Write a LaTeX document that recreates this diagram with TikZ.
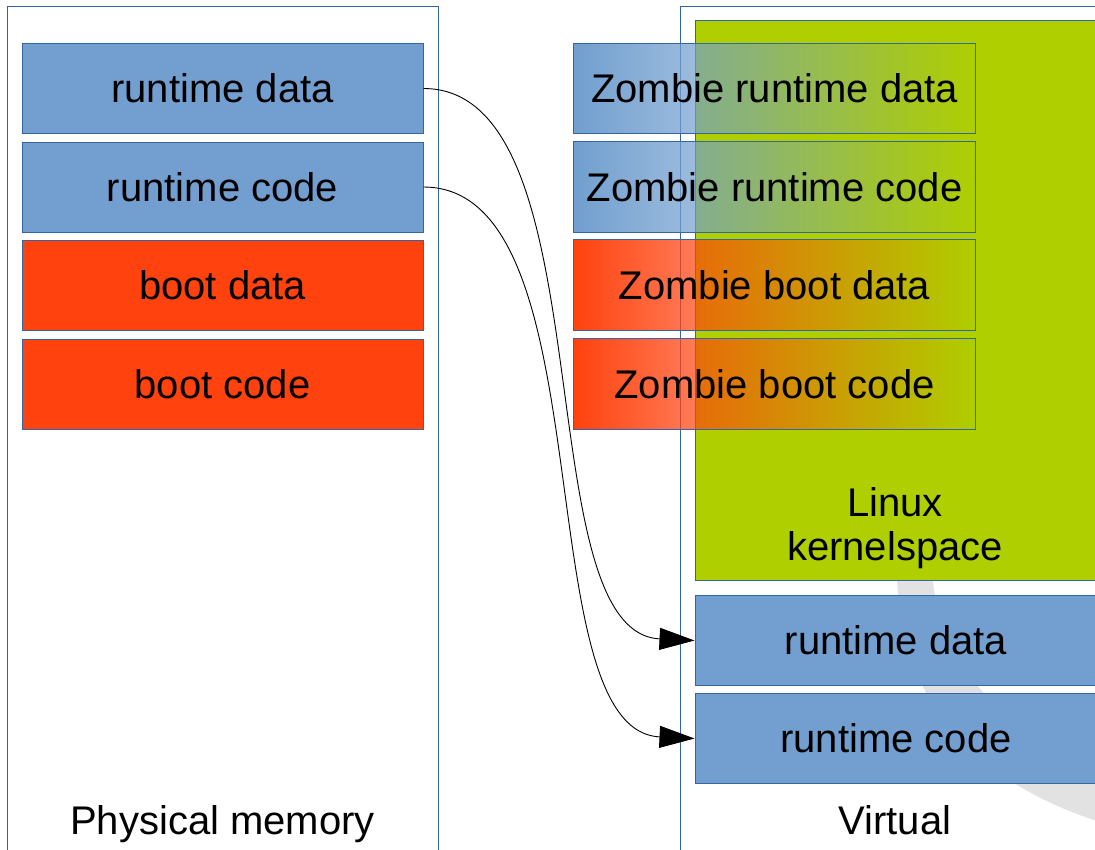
\documentclass[tikz,border=0pt]{standalone}
\usepackage{fontspec}
\setmainfont{Liberation Sans}
\usetikzlibrary{arrows.meta,fadings}
\definecolor{boxblue}{HTML}{729FCF}
\definecolor{boxborder}{HTML}{3465A4}
\definecolor{bootred}{HTML}{FF420E}
\definecolor{kgreen}{HTML}{AFCF00}
\definecolor{wmgray}{HTML}{E2E2E2}
\begin{document}
\begin{tikzpicture}[x=1pt,y=-1pt,
  lbl/.style={font=\fontsize{40}{44}\selectfont, inner sep=0pt},
  membox/.style={draw=boxborder, line width=1pt, minimum width=401pt, minimum height=90pt, inner sep=0pt, font=\fontsize{40}{44}\selectfont},
  rtbox/.style={membox, fill=boxblue},
  btbox/.style={membox, fill=bootred},
  zfill/.style={minimum width=401pt, minimum height=90pt, inner sep=0pt, font=\fontsize{40}{44}\selectfont, path fading=east},
  zborder/.style={draw=boxborder, line width=1pt},
  container/.style={draw=boxborder, line width=1pt, inner sep=0pt},
  conn/.style={line width=0.9pt, -{Triangle[length=35pt,width=22pt]}}
]
\useasboundingbox (0,0) rectangle (1095,849);
\fill[white] (0,0) rectangle (1095,849);
% faint watermark
\fill[wmgray] (897,570) -- (932,570) .. controls (936,660) and (1010,740) .. (1100,775)
  -- (1100,822) .. controls (1000,790) and (897,720) .. cycle;
% containers
\node[container, minimum width=431pt, minimum height=864pt, anchor=north west] (phys) at (7,6) {};
\node[container, minimum width=430pt, minimum height=864pt, anchor=north west] (virt) at (680,6) {};
% kernelspace
\node[draw=boxborder, fill=kgreen, line width=1pt, minimum width=410pt, minimum height=560pt, inner sep=0pt, anchor=north west] (ks) at (695,20) {};
\node[lbl, align=center] (kst) at (895,528) {Linux\\kernelspace};
% physical memory boxes
\node[rtbox] (prd) at (222.5,88.5) {runtime data};
\node[rtbox] (prc) at (222.5,187) {runtime code};
\node[btbox] (pbd) at (222.5,285) {boot data};
\node[btbox] (pbc) at (222.5,384) {boot code};
% virtual runtime boxes
\node[rtbox, minimum width=402pt] (vrd) at (896,640.5) {runtime data};
\node[rtbox, minimum width=402pt] (vrc) at (896,738.5) {runtime code};
% zombie boxes
\node[zfill, fill=boxblue] (zrd) at (774.5,88.5) {Zombie runtime data};
\node[zfill, fill=boxblue] (zrc) at (774.5,187) {Zombie runtime code};
\node[zfill, fill=bootred] (zbd) at (774.5,285) {Zombie boot data};
\node[zfill, fill=bootred] (zbc) at (774.5,384) {Zombie boot code};
\foreach \n in {zrd,zrc,zbd,zbc}{
  \draw[zborder] (\n.north west) rectangle (\n.south east);
}
% connectors
\draw[conn] (prd.east) .. controls +(185,0) and +(-170,-8) .. (vrd.west);
\draw[conn] (prc.east) .. controls +(185,0) and +(-170,-8) .. (vrc.west);
% labels
\node[lbl, anchor=base] (physlbl) at (222.5,834) {Physical memory};
\node[lbl, anchor=base] (virtlbl) at (895,834) {Virtual};
\end{tikzpicture}
\end{document}
